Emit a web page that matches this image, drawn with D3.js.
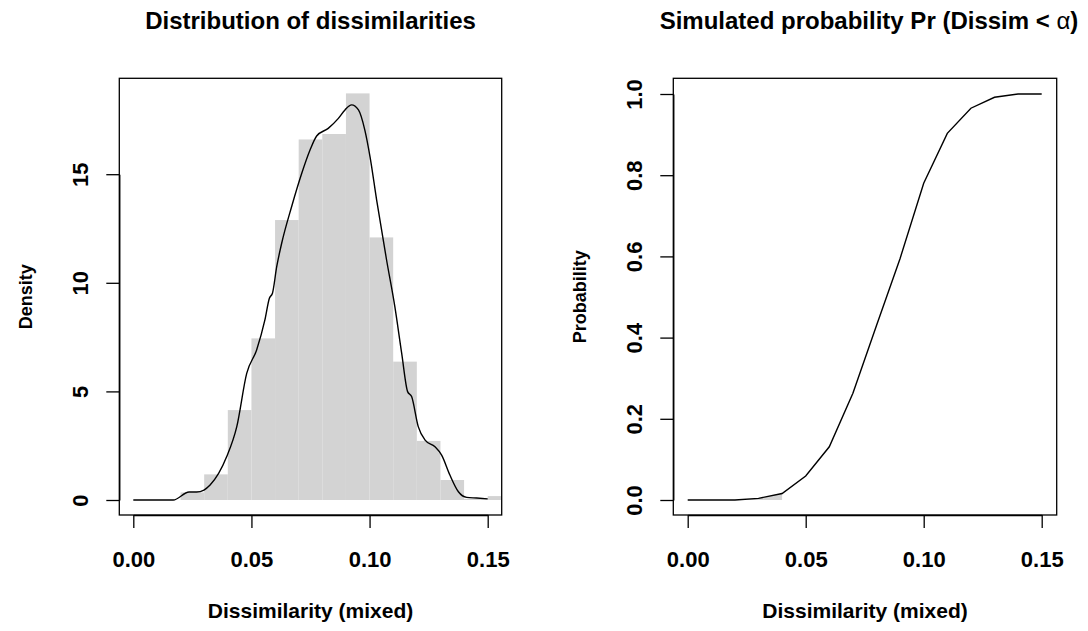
<!DOCTYPE html>
<html lang="en">
<head>
    <meta charset="UTF-8">
    <title>Dissimilarities</title>
    <script src="https://d3js.org/d3.v7.min.js"></script>
    <style>
        body { margin: 0; background: white; }
        svg text { font-family: "Liberation Sans", Arial, Helvetica, sans-serif; font-weight: bold; fill: black; }
        .axis path, .axis line { stroke: black; stroke-width: 1.3; }
    </style>
</head>
<body>
    <svg width="1088" height="631"></svg>
    <script>
        // histogram bins (left edge, width 0.01) and density heights
        var binStarts = [0.02, 0.03, 0.04, 0.05, 0.06, 0.07, 0.08, 0.09, 0.10, 0.11, 0.12, 0.13, 0.14, 0.15];
        var binDensity = [0.35, 1.18, 4.14, 7.44, 12.89, 16.6, 16.85, 18.72, 12.09, 6.37, 2.72, 0.92, 0.05, 0.18];

        // kernel density curve
        var densX = [0, 0.0169, 0.0236, 0.0268, 0.0299, 0.0325, 0.0395, 0.0438, 0.048, 0.0522, 0.0557, 0.0576, 0.0589,
            0.0607, 0.0628, 0.067, 0.0713, 0.0748, 0.0776, 0.0825, 0.0868, 0.0896, 0.0924, 0.0953, 0.098, 0.1002,
            0.103, 0.1072, 0.1107, 0.1136, 0.1161, 0.1178, 0.1206, 0.1235, 0.1277, 0.1305, 0.134, 0.1376, 0.1411,
            0.1453, 0.15];
        var densY = [0, 0, 0.37, 0.37, 0.46, 0.69, 1.99, 3.38, 5.83, 6.91, 8.29, 9.29, 9.52,
            10.74, 11.82, 13.5, 15.04, 16.11, 16.76, 17.11, 17.57, 17.96, 18.19, 17.96, 17.03, 15.8,
            13.81, 11.05, 8.9, 6.75, 4.99, 4.76, 3.38, 2.76, 2.45, 2.07, 1.15, 0.38, 0.12,
            0.09, 0.05];

        // simulated probability Pr(Dissim < alpha)
        var alphaVals = [0, 0.01, 0.02, 0.03, 0.04, 0.05, 0.06, 0.07, 0.08, 0.09, 0.10, 0.11, 0.12, 0.13, 0.14, 0.15];
        var probVals = [0, 0, 0, 0.004, 0.016, 0.059, 0.131, 0.263, 0.43, 0.595, 0.78, 0.903, 0.965, 0.992, 1.0, 1.0];
        var shadeTo = 0.04;

        var xTicks = [0, 0.05, 0.10, 0.15];
        var densTicks = [0, 5, 10, 15];
        var probTicks = [0, 0.2, 0.4, 0.6, 0.8, 1.0];

        var svg = d3.select("svg");

        // ---------- left panel ----------
        var L = {left: 119.3, right: 501.7, top: 78.3, bottom: 515};
        var x1 = d3.scaleLinear().domain([0, 0.15]).range([133.3, 487.7]);
        var y1 = d3.scaleLinear().domain([0, 15]).range([500, 174.2]);

        svg.append("clipPath").attr("id", "clipL")
            .append("rect")
            .attr("x", L.left).attr("y", L.top)
            .attr("width", L.right - L.left).attr("height", L.bottom - L.top);

        var gL = svg.append("g").attr("clip-path", "url(#clipL)");

        gL.selectAll(".bar")
            .data(binStarts)
            .enter().append("rect")
            .attr("class", "bar")
            .attr("x", function(d) { return x1(d); })
            .attr("y", function(d, i) { return y1(binDensity[i]); })
            .attr("width", function(d) { return x1(d + 0.01) - x1(d); })
            .attr("height", function(d, i) { return y1(0) - y1(binDensity[i]); })
            .attr("fill", "#d3d3d3");

        gL.append("path")
            .datum(densX)
            .attr("fill", "none")
            .attr("stroke", "black")
            .attr("stroke-width", 1.4)
            .attr("d", d3.line()
                .x(function(d) { return x1(d); })
                .y(function(d, i) { return y1(densY[i]); })
                .curve(d3.curveMonotoneX));

        svg.append("rect")
            .attr("x", L.left).attr("y", L.top)
            .attr("width", L.right - L.left).attr("height", L.bottom - L.top)
            .attr("fill", "none").attr("stroke", "black").attr("stroke-width", 1.3);

        var axL = svg.append("g")
            .attr("class", "axis")
            .attr("transform", "translate(0," + L.bottom + ")")
            .call(d3.axisBottom(x1).tickValues(xTicks).tickSize(13).tickSizeOuter(0)
                .tickFormat(d3.format(".2f")));
        axL.selectAll("text").attr("y", 51.7).attr("dy", 0).style("font-size", "22px");

        var ayL = svg.append("g")
            .attr("class", "axis")
            .attr("transform", "translate(" + L.left + ",0)")
            .call(d3.axisLeft(y1).tickValues(densTicks).tickSize(13).tickSizeOuter(0)
                .tickFormat(d3.format("d")));
        ayL.selectAll("text")
            .attr("transform", "rotate(-90)")
            .attr("text-anchor", "middle")
            .attr("x", 0).attr("y", -31).attr("dy", 0)
            .style("font-size", "22px");

        svg.append("text")
            .attr("x", (L.left + L.right) / 2).attr("y", 29)
            .attr("text-anchor", "middle")
            .style("font-size", "24px")
            .text("Distribution of dissimilarities");

        svg.append("text")
            .attr("x", (L.left + L.right) / 2).attr("y", 618)
            .attr("text-anchor", "middle")
            .style("font-size", "21px")
            .text("Dissimilarity (mixed)");

        svg.append("text")
            .attr("transform", "translate(32," + ((L.top + L.bottom) / 2) + ") rotate(-90)")
            .attr("text-anchor", "middle")
            .style("font-size", "18px")
            .text("Density");

        // ---------- right panel ----------
        var R = {left: 673.3, right: 1056.7, top: 78.3, bottom: 515};
        var x2 = d3.scaleLinear().domain([0, 0.15]).range([687.7, 1041.7]);
        var y2 = d3.scaleLinear().domain([0, 1]).range([500, 94]);

        var shadeIdx = alphaVals.filter(function(a) { return a <= shadeTo; });
        svg.append("path")
            .datum(shadeIdx)
            .attr("fill", "#d3d3d3")
            .attr("d", d3.area()
                .x(function(d) { return x2(d); })
                .y0(y2(0))
                .y1(function(d, i) { return y2(probVals[i]); }));

        svg.append("path")
            .datum(alphaVals)
            .attr("fill", "none")
            .attr("stroke", "black")
            .attr("stroke-width", 1.4)
            .attr("d", d3.line()
                .x(function(d) { return x2(d); })
                .y(function(d, i) { return y2(probVals[i]); }));

        svg.append("rect")
            .attr("x", R.left).attr("y", R.top)
            .attr("width", R.right - R.left).attr("height", R.bottom - R.top)
            .attr("fill", "none").attr("stroke", "black").attr("stroke-width", 1.3);

        var axR = svg.append("g")
            .attr("class", "axis")
            .attr("transform", "translate(0," + R.bottom + ")")
            .call(d3.axisBottom(x2).tickValues(xTicks).tickSize(13).tickSizeOuter(0)
                .tickFormat(d3.format(".2f")));
        axR.selectAll("text").attr("y", 51.7).attr("dy", 0).style("font-size", "22px");

        var ayR = svg.append("g")
            .attr("class", "axis")
            .attr("transform", "translate(" + R.left + ",0)")
            .call(d3.axisLeft(y2).tickValues(probTicks).tickSize(13).tickSizeOuter(0)
                .tickFormat(d3.format(".1f")));
        ayR.selectAll("text")
            .attr("transform", "rotate(-90)")
            .attr("text-anchor", "middle")
            .attr("x", 0).attr("y", -31.8).attr("dy", 0)
            .style("font-size", "22px");

        var t2 = svg.append("text")
            .attr("x", (R.left + R.right) / 2 + 4).attr("y", 29)
            .attr("text-anchor", "middle")
            .style("font-size", "24px");
        t2.append("tspan").text("Simulated probability Pr (Dissim < ");
        t2.append("tspan").style("font-weight", "normal").text("\u03b1");
        t2.append("tspan").text(")");

        svg.append("text")
            .attr("x", (R.left + R.right) / 2).attr("y", 618)
            .attr("text-anchor", "middle")
            .style("font-size", "21px")
            .text("Dissimilarity (mixed)");

        svg.append("text")
            .attr("transform", "translate(586," + ((R.top + R.bottom) / 2) + ") rotate(-90)")
            .attr("text-anchor", "middle")
            .style("font-size", "18px")
            .text("Probability");
    </script>
</body>
</html>
